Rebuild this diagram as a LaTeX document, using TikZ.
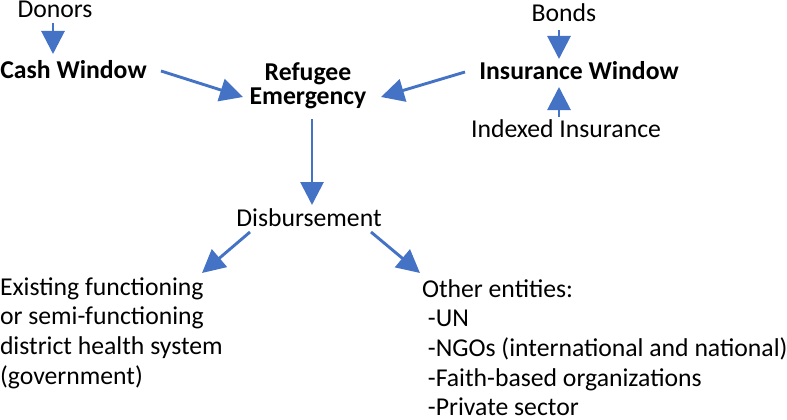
\documentclass[tikz,border=0pt]{standalone}
\usepackage{fontspec}
\setmainfont{Carlito}
\usetikzlibrary{arrows.meta,calc}
\definecolor{arrblue}{HTML}{4472C4}
\begin{document}
\begin{tikzpicture}[x=1pt,y=-1pt,
  lbl/.style={inner sep=0pt, outer sep=0pt, font=\fontsize{25.7}{30}\selectfont},
  bl/.style={inner sep=0pt, outer sep=0pt, font=\fontsize{25.7}{30}\selectfont\bfseries},
  arr/.style={draw=arrblue, line width=2.9pt, -{Triangle[length=23pt,width=23pt]}}]
\useasboundingbox (0,0) rectangle (787,420);
\node[lbl, anchor=base] (donors) at (55,18) {Donors};
\node[bl, anchor=base] (cash) at (73.5,78) {Cash Window};
\node[bl, anchor=base] (ref) at (308,81) {\fontsize{25.7}{23}\selectfont\begin{tabular}[t]{@{}c@{}}Refugee\\Emergency\end{tabular}};
\node[bl, anchor=base] (ins) at (579,79) {Insurance Window};
\node[lbl, anchor=base] (bonds) at (564,22) {Bonds};
\node[lbl, anchor=base] (idx) at (566,137) {Indexed Insurance};
\node[lbl, anchor=base] (disb) at (309,226) {Disbursement};
\node[lbl, anchor=base west] (left) at (0,295) {\fontsize{25.7}{29.7}\selectfont\begin{tabular}[t]{@{}l@{}}Existing functioning\\or semi-functioning\\district health system\\(government)\end{tabular}};
\node[lbl, anchor=base west] (right) at (422,297) {\fontsize{25.7}{29.7}\selectfont\begin{tabular}[t]{@{}l@{}}Other entities:\\\hspace*{0.23em}-UN\\\hspace*{0.23em}-NGOs (international and national)\\\hspace*{0.23em}-Faith-based organizations\\\hspace*{0.23em}-Private sector\end{tabular}};
\draw[arr] ($(donors.base)+(-2,5)$) -- ($(cash.base)+(-20.5,-24)$);
\draw[arr] ($(cash.base)+(87.5,-7)$) -- ($(ref.base)+(-65,16)$);
\draw[arr] ($(ins.base)+(-114,-7)$) -- ($(ref.base)+(73,16)$);
\draw[arr] ($(bonds.base)+(-5,8)$) -- ($(ins.base)+(-20,-20)$);
\draw[arr] ($(idx.base)+(-7,-20)$) -- ($(ins.base)+(-20,8)$);
\draw[arr] ($(ref.base)+(4,38)$) -- ($(disb.base)+(3,-21)$);
\draw[arr] ($(disb.base)+(-59,6)$) -- ($(left.base west)+(202,-22)$);
\draw[arr] ($(disb.base)+(62,6)$) -- ($(right.base west)+(-2,-24)$);
\end{tikzpicture}
\end{document}
